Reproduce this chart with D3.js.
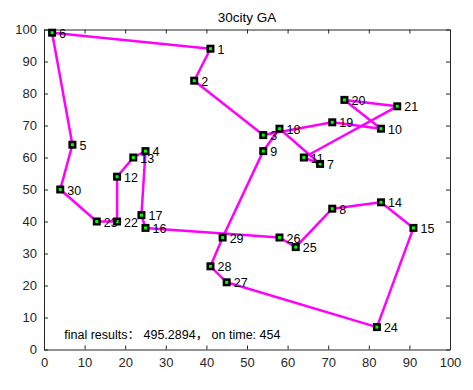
<!DOCTYPE html>
<html>
<head>
<meta charset="utf-8">
<script src="https://cdn.jsdelivr.net/npm/d3@7"></script>
<style>
  body { margin: 0; background: #fff; }
  svg { display: block; font-family: "Liberation Sans", Arial, "Noto Sans CJK SC", sans-serif; }
</style>
</head>
<body>
<svg width="473" height="390"></svg>
<script>
// coordenadas de las 30 ciudades
const cityX = [41, 37, 54, 25, 7, 2, 68, 71, 54, 83, 64, 18, 22, 83, 91, 25, 24, 58, 71, 74, 87, 18, 13, 82, 62, 58, 45, 41, 44, 4];
const cityY = [94, 84, 67, 62, 64, 99, 58, 44, 62, 69, 60, 54, 60, 46, 38, 38, 42, 69, 71, 78, 76, 40, 40, 7, 32, 35, 21, 26, 35, 50];

// mejor ruta encontrada (numeros de ciudad, 1-based)
const route = [6, 1, 2, 3, 19, 10, 20, 21, 11, 7, 18, 9, 29, 28, 27, 24, 15, 14, 8, 25, 26, 16, 17, 4, 13, 12, 22, 23, 30, 5, 6];

const xTicks = [0, 10, 20, 30, 40, 50, 60, 70, 80, 90, 100];
const yTicks = [0, 10, 20, 30, 40, 50, 60, 70, 80, 90, 100];

const titleText = "30city GA";
const resultText = "final results：  495.2894，  on time: 454";

const svg = d3.select("svg");

const x = d3.scaleLinear().domain([0, 100]).range([44, 450]);
const y = d3.scaleLinear().domain([0, 100]).range([349.5, 29.5]);

const axisColor = "#262626";

// ejes con ticks hacia dentro en los cuatro lados
const gBottom = svg.append("g").attr("transform", `translate(0,${y(0)})`)
  .call(d3.axisBottom(x).tickValues(xTicks).tickSizeInner(-4).tickSizeOuter(0).tickPadding(8));
const gTop = svg.append("g").attr("transform", `translate(0,${y(100)})`)
  .call(d3.axisTop(x).tickValues(xTicks).tickSizeInner(-4).tickSizeOuter(0).tickFormat(""));
const gLeft = svg.append("g").attr("transform", `translate(${x(0)},0)`)
  .call(d3.axisLeft(y).tickValues(yTicks).tickSizeInner(-4).tickSizeOuter(0).tickPadding(7));
const gRight = svg.append("g").attr("transform", `translate(${x(100)},0)`)
  .call(d3.axisRight(y).tickValues(yTicks).tickSizeInner(-4).tickSizeOuter(0).tickFormat(""));

[gBottom, gTop, gLeft, gRight].forEach(g => {
  g.select(".domain").attr("stroke", axisColor);
  g.selectAll(".tick line").attr("stroke", axisColor);
  g.selectAll(".tick text").attr("fill", axisColor)
    .style("font-size", "13px")
    .style("font-family", "'Liberation Sans', Arial, sans-serif");
});

// titulo
svg.append("text")
  .attr("x", (x(0) + x(100)) / 2)
  .attr("y", 22)
  .attr("text-anchor", "middle")
  .style("font-size", "13.5px")
  .attr("fill", "#000")
  .text(titleText);

// ruta
const line = d3.line()
  .x(c => x(cityX[c - 1]))
  .y(c => y(cityY[c - 1]));

svg.append("path")
  .datum(route)
  .attr("d", line)
  .attr("fill", "none")
  .attr("stroke", "#ff00ff")
  .attr("stroke-width", 2.5)
  .attr("stroke-linejoin", "round");

// marcadores de ciudades
const ids = d3.range(cityX.length);

svg.selectAll(".city")
  .data(ids)
  .enter()
  .append("rect")
  .attr("class", "city")
  .attr("x", i => x(cityX[i]) - 2.75)
  .attr("y", i => y(cityY[i]) - 2.75)
  .attr("width", 5.5)
  .attr("height", 5.5)
  .attr("fill", "#00ff00")
  .attr("stroke", "#000")
  .attr("stroke-width", 2.5);

// numeros de ciudad
svg.selectAll(".label")
  .data(ids)
  .enter()
  .append("text")
  .attr("class", "label")
  .attr("x", i => x(cityX[i]) + 7)
  .attr("y", i => y(cityY[i]) + 5)
  .style("font-size", "12.5px")
  .attr("fill", "#000")
  .text(i => i + 1);

// resultado final
svg.append("text")
  .attr("x", x(5))
  .attr("y", y(5) + 5)
  .style("font-size", "12.5px")
  .attr("fill", "#000")
  .text(resultText);
</script>
</body>
</html>
